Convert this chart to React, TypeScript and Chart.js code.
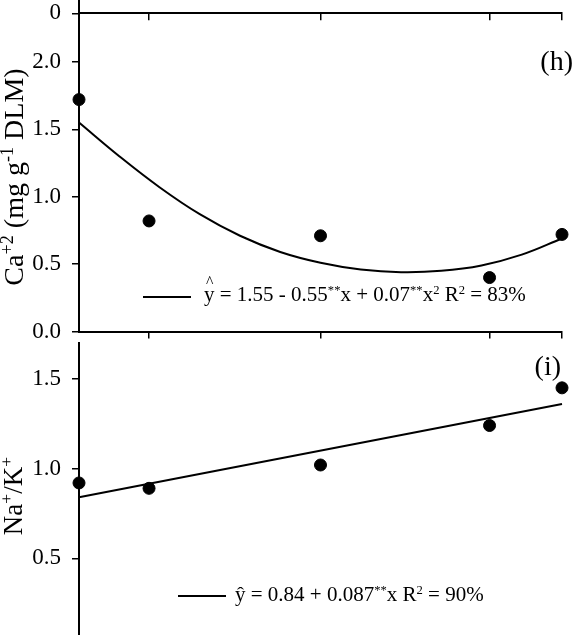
import React, { useEffect, useRef } from "react";
import Chart from "chart.js/auto";

// x positions of the five treatments
const xDoses = [0, 0.87, 3, 5.1, 6];
const xTicks = [0.87, 3, 5.1, 6];

// panel (h) Ca+2
const caValues = [1.72, 0.82, 0.71, 0.4, 0.72];
const caFitX = [0, 0.5, 1, 1.5, 2, 2.5, 3, 3.5, 4, 4.5, 5, 5.5, 6];
const caFitY = [1.55, 1.3, 1.07, 0.87, 0.71, 0.59, 0.51, 0.46, 0.44, 0.45, 0.49, 0.57, 0.69];
const caTicks = [0, 0.5, 1, 1.5, 2];

// panel (i) Na+/K+
const naKValues = [0.92, 0.89, 1.02, 1.24, 1.45];
const naKFitX = [0, 6];
const naKFitY = [0.84, 1.36];
const naKTicks = [0, 0.5, 1, 1.5];

// bottom of the panel above (g)
const topTicks = [0];

const FONT = "'Liberation Serif', 'Times New Roman', serif";

type PanelOpts = {
  points: { x: number; y: number }[];
  fit: { x: number; y: number }[];
  yMin: number;
  yMax: number;
  yTicks: number[];
  decimals: number;
  padTop: number;
  xAxisHeight: number;
  curved: boolean;
};

// keep the plot area where we put it (no room reserved for half tick labels)
const noPadding = (s: any) => {
  s.paddingTop = 0;
  s.paddingBottom = 0;
  s.paddingLeft = 0;
  s.paddingRight = 0;
};

function makeChart(canvas: HTMLCanvasElement, o: PanelOpts) {
  return new Chart(canvas, {
    type: "scatter",
    data: {
      datasets: [
        {
          data: o.points,
          showLine: false,
          pointRadius: 6,
          pointBackgroundColor: "#000",
          pointBorderColor: "#000",
          clip: false,
        },
        {
          data: o.fit,
          showLine: true,
          borderColor: "#000",
          borderWidth: 2,
          pointRadius: 0,
          tension: o.curved ? 0.4 : 0,
          clip: false,
        },
      ],
    },
    options: {
      animation: false,
      responsive: false,
      events: [],
      layout: { padding: { top: o.padTop, right: 17, left: 0, bottom: 0 } },
      plugins: {
        legend: { display: false },
        tooltip: { enabled: false },
      },
      scales: {
        x: {
          type: "linear",
          min: 0,
          max: 6,
          position: "bottom",
          afterBuildTicks: (s: any) => {
            s.ticks = xTicks.map((v) => ({ value: v }));
          },
          afterFit: (s: any) => {
            s.height = o.xAxisHeight;
            noPadding(s);
          },
          ticks: { display: false },
          grid: {
            drawOnChartArea: false,
            drawTicks: true,
            tickLength: 7,
            color: "#000",
            lineWidth: 1.5,
          },
          border: { display: true, color: "#000", width: 2 },
        },
        y: {
          type: "linear",
          min: o.yMin,
          max: o.yMax,
          afterBuildTicks: (s: any) => {
            s.ticks = o.yTicks.map((v) => ({ value: v }));
          },
          afterFit: (s: any) => {
            s.width = 79;
            noPadding(s);
          },
          ticks: {
            color: "#000",
            padding: 11,
            font: { family: FONT, size: 23 },
            callback: (v: any) => Number(v).toFixed(o.decimals),
          },
          grid: {
            drawOnChartArea: false,
            drawTicks: true,
            tickLength: 7,
            color: "#000",
            lineWidth: 1.5,
          },
          border: { display: true, color: "#000", width: 2 },
        },
      },
    },
  });
}

const sup: React.CSSProperties = {
  fontSize: "0.6em",
  position: "relative",
  top: "-0.55em",
};

const titleSup: React.CSSProperties = {
  fontSize: "0.65em",
  position: "relative",
  top: "-0.55em",
};

const App: React.FC = () => {
  const gRef = useRef<HTMLCanvasElement | null>(null);
  const hRef = useRef<HTMLCanvasElement | null>(null);
  const iRef = useRef<HTMLCanvasElement | null>(null);

  useEffect(() => {
    const charts: Chart[] = [];
    if (gRef.current) {
      charts.push(
        makeChart(gRef.current, {
          points: [],
          fit: [],
          yMin: 0,
          yMax: 1,
          yTicks: topTicks,
          decimals: 0,
          padTop: 0,
          xAxisHeight: 30 - 13.3,
          curved: false,
        })
      );
    }
    if (hRef.current) {
      charts.push(
        makeChart(hRef.current, {
          points: xDoses.map((x, k) => ({ x, y: caValues[k] })),
          fit: caFitX.map((x, k) => ({ x, y: caFitY[k] })),
          yMin: 0,
          yMax: 2.36,
          yTicks: caTicks,
          decimals: 1,
          padTop: 13.3,
          xAxisHeight: 340 - 331.5,
          curved: true,
        })
      );
    }
    if (iRef.current) {
      charts.push(
        makeChart(iRef.current, {
          points: xDoses.map((x, k) => ({ x, y: naKValues[k] })),
          fit: naKFitX.map((x, k) => ({ x, y: naKFitY[k] })),
          yMin: 0,
          yMax: 1.7,
          yTicks: naKTicks,
          decimals: 1,
          padTop: 8,
          xAxisHeight: 320 - 313.4,
          curved: false,
        })
      );
    }
    return () => {
      charts.forEach((c) => c.destroy());
    };
  }, []);

  const abs = (left: number, top: number, extra?: React.CSSProperties): React.CSSProperties => ({
    position: "absolute",
    left,
    top,
    whiteSpace: "nowrap",
    ...extra,
  });

  return (
    <div
      style={{
        position: "fixed",
        left: 0,
        top: 0,
        width: 579,
        height: 635,
        overflow: "hidden",
        background: "#fff",
        fontFamily: FONT,
        color: "#000",
      }}
    >
      <canvas ref={hRef} width={579} height={340} style={abs(0, 0)} />
      <canvas ref={gRef} width={579} height={30} style={abs(0, 0)} />
      <canvas ref={iRef} width={579} height={320} style={abs(0, 335)} />

      {/* y axis titles */}
      <div
        style={abs(15, 177, {
          fontSize: 28,
          lineHeight: "28px",
          transform: "translate(-50%, -50%) rotate(-90deg)",
        })}
      >
        Ca<span style={titleSup}>+2</span> (mg g<span style={titleSup}>-1</span> DLM)
      </div>
      <div
        style={abs(15, 496, {
          fontSize: 27,
          lineHeight: "27px",
          transform: "translate(-50%, -50%) rotate(-90deg)",
        })}
      >
        Na<span style={titleSup}>+</span>/K<span style={titleSup}>+</span>
      </div>

      {/* panel letters */}
      <div style={abs(0, 47, { width: 573, textAlign: "right", fontSize: 28, lineHeight: "28px" })}>(h)</div>
      <div style={abs(0, 352, { width: 561, textAlign: "right", fontSize: 28, lineHeight: "28px" })}>(i)</div>

      {/* regression legends */}
      <div style={abs(143, 296, { width: 48, height: 2, background: "#000" })} />
      <div style={abs(204, 284, { fontSize: 21, lineHeight: "21px" })}>
        <span style={{ position: "relative", display: "inline-block" }}>
          y
          <span style={{ position: "absolute", left: "0.12em", top: "-0.85em", fontSize: "0.75em" }}>^</span>
        </span>{" "}
        = 1.55 - 0.55<span style={sup}>**</span>x + 0.07<span style={sup}>**</span>x<span style={sup}>2</span> R
        <span style={sup}>2</span> = 83%
      </div>

      <div style={abs(178, 595, { width: 48, height: 2, background: "#000" })} />
      <div style={abs(235, 584, { fontSize: 21, lineHeight: "21px" })}>
        ŷ = 0.84 + 0.087<span style={sup}>**</span>x R<span style={sup}>2</span> = 90%
      </div>
    </div>
  );
};

export default App;
